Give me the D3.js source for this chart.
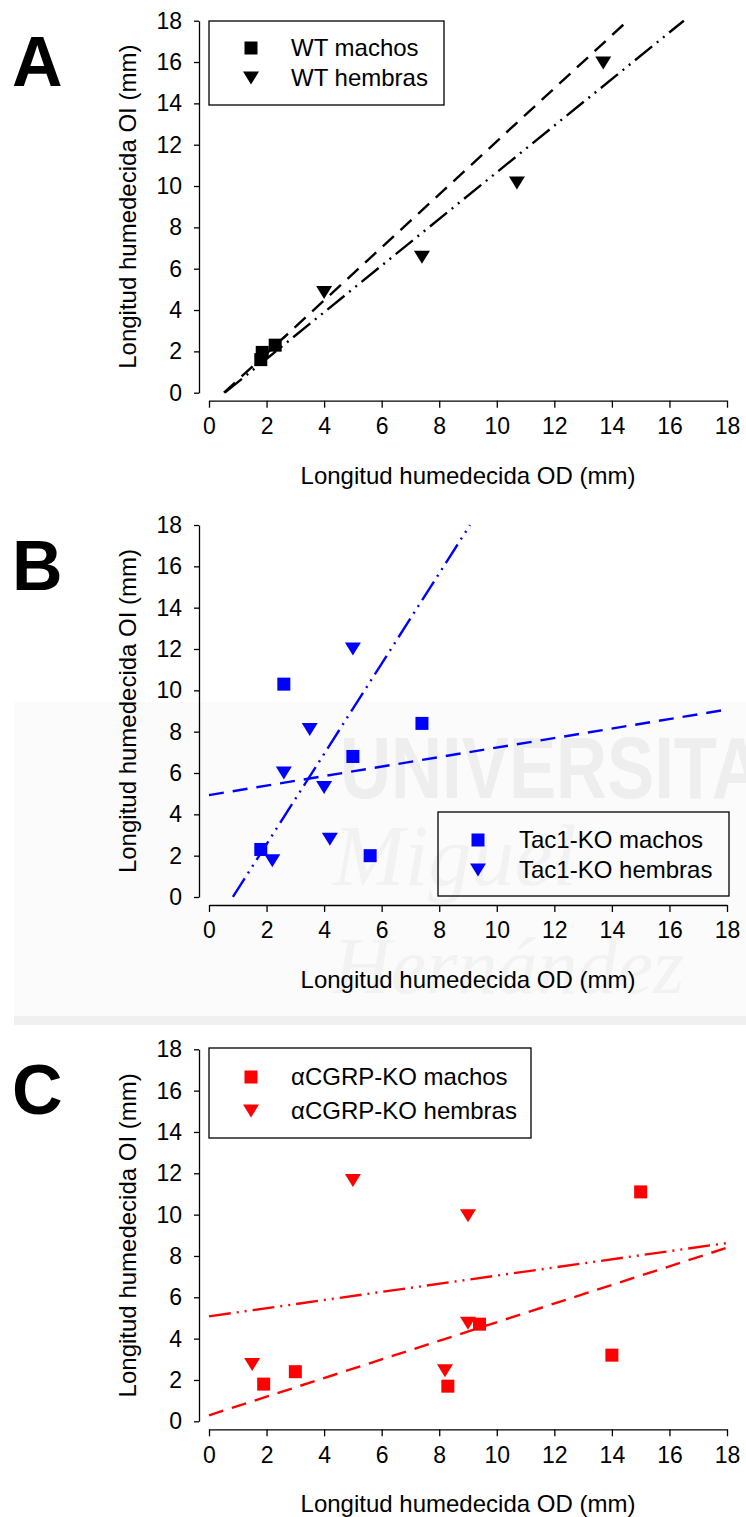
<!DOCTYPE html>
<html lang="es">
<head>
<meta charset="utf-8">
<title>Longitud humedecida OD vs OI</title>
<script src="https://cdn.jsdelivr.net/npm/d3@7"></script>
<style>
  body { margin: 0; background: #fff; }
  svg { display: block; font-family: "Liberation Sans", Arial, sans-serif; }
  .axis text { font-size: 23px; fill: #000; }
  .axis path, .axis line { stroke: #000; stroke-width: 1.3; }
  .title { font-size: 24px; }
  .legend text { font-size: 24px; }
  .letter { font-size: 70px; font-weight: bold; }
</style>
</head>
<body>
<script>
const w = 746;
const h = 1517;

// data (mm)
const ticks = [0, 2, 4, 6, 8, 10, 12, 14, 16, 18];

const wtMachos = [[1.8, 1.6], [1.85, 1.95], [2.3, 2.3]];
const wtHembras = [[4.0, 4.85], [7.4, 6.55], [10.7, 10.15], [13.7, 15.95]];
const tacMachos = [[1.8, 2.3], [2.6, 10.3], [5.0, 6.8], [7.4, 8.4], [5.6, 2.0]];
const tacHembras = [[2.2, 1.75], [2.6, 6.0], [3.5, 8.1], [4.0, 5.3], [4.2, 2.8], [5.0, 12.0]];
const cgrpMachos = [[1.9, 1.8], [3.0, 2.4], [8.3, 1.7], [9.4, 4.7], [14.0, 3.2], [15.0, 11.1]];
const cgrpHembras = [[1.5, 2.75], [5.0, 11.65], [8.2, 2.45], [9.0, 4.75], [9.0, 9.95]];

// regression lines: slope, intercept, x range
const wtFitMachos = {slope: 1.283, intercept: -0.667, x: [0.52, 14.55]};
const wtFitHembras = {slope: 1.1285, intercept: -0.62, x: [0.55, 16.5]};
const tacFitMachos = {slope: 0.23, intercept: 4.93, x: [0, 18]};
const tacFitHembras = {slope: 2.184, intercept: -1.81, x: [0.83, 9.07]};
const cgrpFitMachos = {slope: 0.4506, intercept: 0.29, x: [0, 18]};
const cgrpFitHembras = {slope: 0.197, intercept: 5.08, x: [0, 18]};

const letters = ["A", "B", "C"];
const legendLabels = [
  ["WT machos", "WT hembras"],
  ["Tac1-KO machos", "Tac1-KO hembras"],
  ["\u03b1CGRP-KO machos", "\u03b1CGRP-KO hembras"]
];
const xTitle = "Longitud humedecida OD (mm)";
const yTitle = "Longitud humedecida OI (mm)";

// layout
const panels = [
  {top: 20.7, color: "#000000", m: wtMachos, f: wtHembras, fm: wtFitMachos, ff: wtFitHembras,
   legend: {x: 209, y: 21, w: 235, h: 84, mx: 251, tx: 291, r0: 48, r1: 78}},
  {top: 525, color: "#0000ff", m: tacMachos, f: tacHembras, fm: tacFitMachos, ff: tacFitHembras,
   legend: {x: 438, y: 812, w: 291, h: 84, mx: 478, tx: 519, r0: 840, r1: 870}},
  {top: 1049.3, color: "#ff0000", m: cgrpMachos, f: cgrpHembras, fm: cgrpFitMachos, ff: cgrpFitHembras,
   legend: {x: 209, y: 1048, w: 322, h: 90, mx: 251, tx: 291, r0: 1077, r1: 1111}}
];
const plotH = 372;
const axisX = 199;

const svg = d3.select("body").append("svg")
  .attr("width", w)
  .attr("height", h);

// faint watermark behind panel B
const wm = svg.append("g");
wm.append("rect").attr("x", 14).attr("y", 702).attr("width", 732).attr("height", 318).attr("fill", "#fbfbfb");
wm.append("rect").attr("x", 14).attr("y", 1016).attr("width", 732).attr("height", 9).attr("fill", "#f0f0f0");
wm.append("text").attr("x", 340).attr("y", 798)
  .attr("textLength", 470).attr("lengthAdjust", "spacingAndGlyphs")
  .style("font-size", "88px").style("font-weight", "bold").attr("fill", "#eeeeee")
  .text("UNIVERSITAS");
wm.append("text").attr("x", 333).attr("y", 885)
  .style("font-family", "'Liberation Serif', serif").style("font-style", "italic")
  .style("font-size", "86px").attr("fill", "#f2f2f2")
  .text("Miguel");
wm.append("text").attr("x", 333).attr("y", 993)
  .style("font-family", "'Liberation Serif', serif").style("font-style", "italic")
  .style("font-size", "80px").attr("fill", "#f2f2f2")
  .text("Hernández");

const tri = "M-8,-6.5L8,-6.5L0,6.5Z";

panels.forEach(function(p, i) {
  const x = d3.scaleLinear().domain([0, 18]).range([209, 727]);
  const y = d3.scaleLinear().domain([0, 18]).range([p.top + plotH, p.top]);
  const g = svg.append("g");

  g.append("g")
    .attr("class", "axis")
    .attr("transform", "translate(" + axisX + ",0)")
    .call(d3.axisLeft(y).tickValues(ticks).tickSize(5).tickSizeOuter(0).tickPadding(12))
    .call(a => a.selectAll("text").attr("font-family", null).attr("font-size", null));

  g.append("g")
    .attr("class", "axis")
    .attr("transform", "translate(0," + (y(0) + 8) + ")")
    .call(d3.axisBottom(x).tickValues(ticks).tickSize(7).tickSizeOuter(0).tickPadding(10))
    .call(a => a.selectAll("text").attr("font-family", null).attr("font-size", null));

  // fit lines
  [[p.fm, "15,9"], [p.ff, "22,6,2,6,2,6"]].forEach(function(d) {
    const fit = d[0];
    g.append("line")
      .attr("x1", x(fit.x[0])).attr("y1", y(fit.slope * fit.x[0] + fit.intercept))
      .attr("x2", x(fit.x[1])).attr("y2", y(fit.slope * fit.x[1] + fit.intercept))
      .attr("stroke", p.color)
      .attr("stroke-width", 2.4)
      .attr("stroke-dasharray", d[1]);
  });

  g.selectAll("rect.m").data(p.m).enter().append("rect")
    .attr("class", "m")
    .attr("x", d => x(d[0]) - 6.5)
    .attr("y", d => y(d[1]) - 6.5)
    .attr("width", 13).attr("height", 13)
    .attr("fill", p.color);

  g.selectAll("path.f").data(p.f).enter().append("path")
    .attr("class", "f")
    .attr("d", tri)
    .attr("transform", d => "translate(" + x(d[0]) + "," + y(d[1]) + ")")
    .attr("fill", p.color);

  // legend
  const L = p.legend;
  const lg = g.append("g").attr("class", "legend");
  lg.append("rect").attr("x", L.x).attr("y", L.y).attr("width", L.w).attr("height", L.h)
    .attr("fill", "none").attr("stroke", "#000").attr("stroke-width", 1.3);
  lg.append("rect").attr("x", L.mx - 6.5).attr("y", L.r0 - 6.5).attr("width", 13).attr("height", 13).attr("fill", p.color);
  lg.append("path").attr("d", tri).attr("transform", "translate(" + L.mx + "," + L.r1 + ")").attr("fill", p.color);
  lg.append("text").attr("x", L.tx).attr("y", L.r0 + 8).text(legendLabels[i][0]);
  lg.append("text").attr("x", L.tx).attr("y", L.r1 + 8).text(legendLabels[i][1]);

  // titles
  g.append("text").attr("class", "title")
    .attr("x", 468).attr("y", y(0) + 91)
    .attr("text-anchor", "middle")
    .text(xTitle);
  g.append("text").attr("class", "title")
    .attr("transform", "translate(" + (axisX - 63) + "," + ((y(0) + y(18)) / 2) + ") rotate(-90)")
    .attr("text-anchor", "middle")
    .text(yTitle);

  g.append("text").attr("class", "letter")
    .attr("x", 12).attr("y", p.top + 65)
    .text(letters[i]);
});
</script>
</body>
</html>
